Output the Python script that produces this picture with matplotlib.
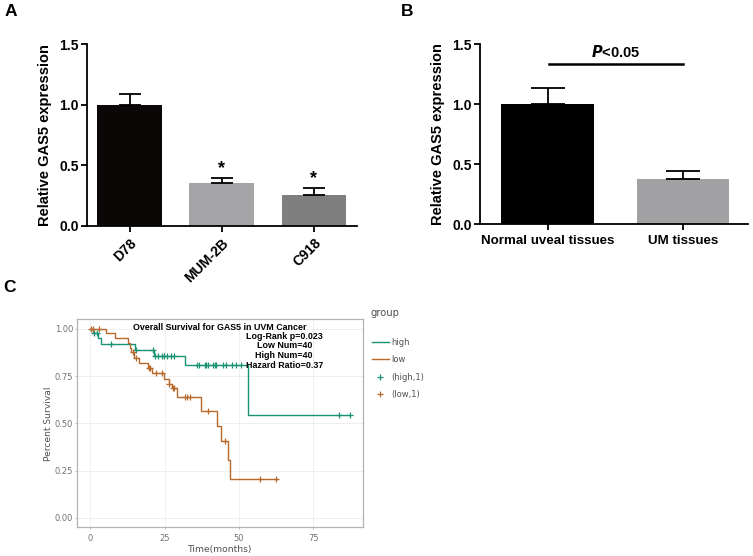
import numpy as np
import matplotlib
matplotlib.use('Agg')
import matplotlib.pyplot as plt
from matplotlib.lines import Line2D

# ---- panel A data ----
cell_lines = ["D78", "MUM-2B", "C918"]
cell_expr = [1.0, 0.35, 0.255]
cell_err = [0.09, 0.045, 0.06]
cell_sig = ["", "*", "*"]

# ---- panel B data ----
tissue_groups = ["Normal uveal tissues", "UM tissues"]
tissue_expr = [1.0, 0.375]
tissue_err = [0.138, 0.072]

# ---- panel C data (Kaplan-Meier steps) ----
high_t = [0, 1.0, 2.5, 3.6, 15.0, 21.4, 31.8, 52.9, 87.4]
high_s = [1.0, 0.975, 0.95, 0.918, 0.888, 0.856, 0.81, 0.542, 0.542]
high_cens = [1.4, 2.2, 6.9, 15.4, 21.0, 21.6, 22.9, 24.0, 24.9, 25.8, 27.1, 28.2,
             35.8, 36.5, 38.6, 39.0, 39.6, 41.3, 41.8, 42.3, 44.6, 45.7, 47.5,
             49.1, 50.7, 83.6, 87.2]

low_t = [0, 5.3, 8.4, 12.8, 13.3, 13.8, 14.8, 16.5, 19.5, 20.8, 24.8, 26.3,
         27.3, 29.0, 37.2, 42.5, 44.0, 46.3, 47.0, 62.8]
low_s = [1.0, 0.975, 0.95, 0.925, 0.90, 0.875, 0.848, 0.82, 0.795, 0.765,
         0.735, 0.71, 0.685, 0.637, 0.567, 0.488, 0.405, 0.305, 0.204, 0.204]
low_cens = [0.2, 0.8, 2.8, 14.2, 15.5, 19.8, 20.1, 22.0, 24.0, 26.6, 27.7,
            28.2, 32.0, 32.6, 33.5, 39.6, 45.2, 57.2, 62.4]

stats_lines = ["Log-Rank p=0.023", "Low Num=40", "High Num=40", "Hazard Ratio=0.37"]

GREEN = '#1a9274'
BROWN = '#b86a2c'

plt.rcParams['font.family'] = ['Liberation Sans', 'DejaVu Sans']
fig = plt.figure(figsize=(7.53, 5.56), dpi=100)


def prism_axes(ax):
    for side in ['top', 'right']:
        ax.spines[side].set_visible(False)
    for side in ['left', 'bottom']:
        ax.spines[side].set_linewidth(1.3)
    ax.tick_params(width=1.3, length=4.5, labelsize=10, pad=1.5)
    for lab in ax.get_yticklabels() + ax.get_xticklabels():
        lab.set_fontweight('bold')


# ---------- A ----------
axA = fig.add_axes([0.1159, 0.594, 0.3582, 0.3263])
colsA = ['#0b0707', '#a5a5a8', '#7f7f7f']
xA = np.arange(len(cell_lines))
axA.bar(xA, cell_expr, width=0.70, color=colsA, zorder=2)
axA.errorbar(xA, cell_expr, yerr=[np.zeros(3), cell_err], fmt='none',
             ecolor='black', elinewidth=1.3, capsize=8, capthick=1.3, zorder=3)
for x, v, e, s in zip(xA, cell_expr, cell_err, cell_sig):
    if s:
        axA.text(x, v + e + 0.005, s, ha='center', va='bottom', fontsize=13,
                 fontweight='bold')
axA.set_xlim(-0.46, 2.47)
axA.set_ylim(0, 1.5)
axA.set_yticks([0, 0.5, 1.0, 1.5])
axA.set_yticklabels(['0.0', '0.5', '1.0', '1.5'])
axA.set_xticks(xA)
axA.set_xticklabels(cell_lines, rotation=45, ha='right', rotation_mode='anchor')
axA.set_ylabel('Relative GAS5 expression', fontsize=10.5, fontweight='bold',
               labelpad=5)
prism_axes(axA)
axA.tick_params(axis='x', pad=3)

# ---------- B ----------
axB = fig.add_axes([0.6375, 0.5966, 0.356, 0.3237])
xB = np.arange(len(tissue_groups))
axB.bar(xB, tissue_expr, width=0.683, color=['#000000', '#a2a2a5'], zorder=2)
axB.errorbar(xB, tissue_expr, yerr=[np.zeros(2), tissue_err], fmt='none',
             ecolor='black', elinewidth=1.3, capsize=12, capthick=1.3, zorder=3)
axB.plot([0.01, 1.0], [1.333, 1.333], color='black', lw=1.8, clip_on=False)
axB.text(0.505, 1.37, r'$\bfit{P}$' + '<0.05', ha='center', va='bottom',
         fontsize=10.5, fontweight='bold')
axB.set_xlim(-0.50, 1.48)
axB.set_ylim(0, 1.5)
axB.set_yticks([0, 0.5, 1.0, 1.5])
axB.set_yticklabels(['0.0', '0.5', '1.0', '1.5'])
axB.set_xticks(xB)
axB.set_xticklabels(tissue_groups)
axB.set_ylabel('Relative GAS5 expression', fontsize=10.5, fontweight='bold',
               labelpad=5)
prism_axes(axB)
axB.tick_params(axis='x', labelsize=9.6, pad=3)

# ---------- C ----------
axC = fig.add_axes([0.1027, 0.0516, 0.3798, 0.3741])
axC.set_facecolor('white')
for sp in axC.spines.values():
    sp.set_color('#b3b3b3')
    sp.set_linewidth(0.9)
axC.grid(True, color='#ececec', lw=0.6)
axC.set_axisbelow(True)


def surv_at(t_arr, s_arr, times):
    idx = np.searchsorted(t_arr, times, side='right') - 1
    return np.array(s_arr)[idx]


axC.step(high_t, high_s, where='post', color=GREEN, lw=1.0)
axC.step(low_t, low_s, where='post', color=BROWN, lw=1.0)
axC.plot(high_cens, surv_at(high_t, high_s, high_cens), '+', color=GREEN,
         ms=5, mew=0.9)
axC.plot(low_cens, surv_at(low_t, low_s, low_cens), '+', color=BROWN,
         ms=5, mew=0.9)
axC.set_xlim(-4.37, 91.8)
axC.set_ylim(-0.05, 1.05)
axC.set_xticks([0, 25, 50, 75])
axC.set_yticks([0, 0.25, 0.5, 0.75, 1.0])
axC.set_yticklabels(['0.00', '0.25', '0.50', '0.75', '1.00'])
axC.tick_params(length=1.5, width=0.6, color='#b3b3b3', labelsize=6,
                labelcolor='#707070', labelfontfamily='DejaVu Sans', pad=1.5)
axC.tick_params(axis='x', pad=3)
axC.set_xlabel('Time(months)', fontsize=6.6, color='#505050',
               family='DejaVu Sans', labelpad=2)
axC.set_ylabel('Percent Survival', fontsize=6.6, color='#505050',
               family='DejaVu Sans', labelpad=1.5)
axC.text(43.5, 1.033, 'Overall Survival for GAS5 in UVM Cancer', ha='center',
         va='top', fontsize=6.4, fontweight='bold')
axC.text(65.2, 0.985, '\n'.join(stats_lines), ha='center', va='top',
         fontsize=6.4, fontweight='bold', linespacing=1.12)

handles = [Line2D([], [], color=GREEN, lw=1.0),
           Line2D([], [], color=BROWN, lw=1.0),
           Line2D([], [], color=GREEN, marker='+', ls='none', ms=5, mew=0.9),
           Line2D([], [], color=BROWN, marker='+', ls='none', ms=5, mew=0.9)]
fig.text(0.4925, 1 - 313 / 556, 'group', fontsize=7.2, color='#505050',
         family='DejaVu Sans', va='center', ha='left')
leg = fig.legend(handles, ['high', 'low', '(high,1)', '(low,1)'],
                 loc='upper left', bbox_to_anchor=(0.494, 1 - 338 / 556),
                 frameon=False, borderpad=0, borderaxespad=0,
                 prop={'family': 'DejaVu Sans', 'size': 6}, handlelength=2.0,
                 handletextpad=0.35, labelspacing=1.0)
for t in leg.get_texts():
    t.set_color('#505050')

# panel letters
for lbl, x, y in [('A', 0.006, 0.993), ('B', 0.532, 0.993), ('C', 0.004, 0.497)]:
    fig.text(x, y, lbl, fontsize=12.5, fontweight='bold', va='top', ha='left')

fig.savefig('out.png', dpi=100)
